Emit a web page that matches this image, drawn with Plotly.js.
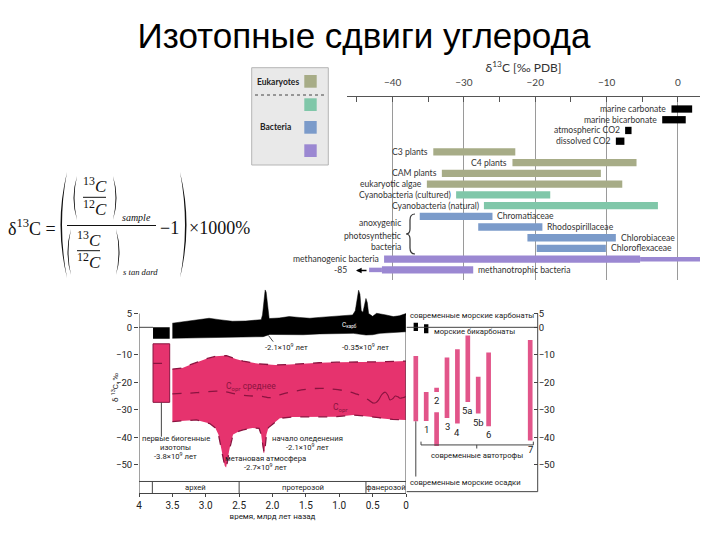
<!DOCTYPE html>
<html>
<head>
<meta charset="utf-8">
<script src="https://cdn.plot.ly/plotly-3.0.1.min.js"></script>
<style>
  html, body { margin: 0; padding: 0; background: #fff; }
  #chart { width: 720px; height: 540px; }
</style>
</head>
<body>
<div id="chart"></div>
<script>
// ---- top right: d13C ranges of carbon pools (‰ PDB) ----
var rowNames = ['marine carbonate', 'marine bicarbonate', 'atmospheric CO2', 'dissolved CO2',
  'C3 plants', 'C4 plants', 'CAM plants', 'eukaryotic algae',
  'Cyanobacteria (cultured)', 'Cyanobacteria (natural)',
  'Chromatiaceae', 'Rhodospirillaceae', 'Chlorobiaceae', 'Chloroflexaceae',
  'methanogenic bacteria', 'methanotrophic bacteria'];
var rowGroups = ['inorganic', 'inorganic', 'inorganic', 'inorganic',
  'eukaryotes', 'eukaryotes', 'eukaryotes', 'eukaryotes',
  'cyanobacteria', 'cyanobacteria',
  'anoxygenic', 'anoxygenic', 'anoxygenic', 'anoxygenic',
  'methane', 'methane'];
var rowMin = [-0.9, -2.2, -7.4, -8.7, -34.3, -23.2, -33.1, -35.2, -31.1, -27.2, -36.2, -28.0, -21.1, -19.8, -41.2, -41.5];
var rowMax = [2.0, 1.1, -6.5, -7.5, -22.8, -5.8, -10.8, -7.8, -17.9, -2.8, -26.0, -19.0, -8.7, -10.1, -5.3, -28.7];
var rowLabelSide = ['left', 'left', 'left', 'left', 'left', 'left', 'left', 'left', 'left', 'left',
  'right', 'right', 'right', 'right', 'left', 'right'];
// thin tapered ends of the methane bars
var tailNames = ['methanogenic bacteria', 'methanotrophic bacteria'];
var tailMin = [-5.3, -43.3];
var tailMax = [3.1, -41.5];

var groupNames = ['inorganic', 'eukaryotes', 'cyanobacteria', 'anoxygenic', 'methane'];
var groupColors = ['#000000', '#a7ac87', '#80c7a9', '#7b9bca', '#9b88d2'];
var legendGroups = ['eukaryotes', 'cyanobacteria', 'anoxygenic', 'methane'];

// ---- bottom left: d13C through geological time (age in Ga) ----
var carbTopAge = [3.5, 3.3, 3.1, 2.95, 2.8, 2.6, 2.4, 2.25, 2.17, 2.15, 2.135, 2.12, 2.11, 2.095, 2.08, 2.065, 2.05,
  1.9, 1.75, 1.6, 1.44, 1.3, 1.14, 1.0, 0.89, 0.8, 0.76, 0.73, 0.71, 0.69, 0.67, 0.645, 0.62, 0.6, 0.58, 0.56,
  0.5, 0.44, 0.3, 0.19, 0.1, 0.0];
var carbTopVal = [1.5, 2.2, 2.7, 3.3, 2.8, 2.2, 2.3, 2.6, 2.8, 4.5, 9, 12.8, 13.6, 12.8, 9, 4.5, 3.2,
  3.4, 3.9, 3.6, 3.3, 3.6, 3.9, 4.2, 4.5, 4.5, 6, 11, 13.5, 12, 6, 5.5, 8, 10.5, 9, 5,
  4, 5.1, 4.5, 3.9, 4.2, 5];
var carbBotAge = [3.5, 3.3, 3.14, 2.9, 2.64, 2.4, 2.14, 2.04, 1.8, 1.54, 1.3, 1.04, 0.79, 0.6, 0.5, 0.39, 0.2, 0.0];
var carbBotVal = [-4.0, -3.9, -3.8, -3.6, -3.4, -3.5, -3.4, -2.6, -2.7, -2.7, -2.4, -2.2, -2.2, -2.8, -2.7, -2.2, -2.0, -1.6];

var orgTopAge = [3.5, 3.35, 3.24, 3.0, 2.85, 2.69, 2.55, 2.44, 2.2, 1.96, 1.75, 1.54, 1.3, 1.04, 0.8, 0.54, 0.3, 0.0];
var orgTopVal = [-15.2, -14.8, -13.7, -11.5, -10.5, -10.3, -11.5, -12.3, -13.3, -13.7, -13.5, -13.1, -12.9, -12.7, -12.7, -12.7, -12.5, -12.3];
var orgBotAge = [3.5, 3.3, 3.14, 2.94, 2.86, 2.81, 2.77, 2.74, 2.715, 2.695, 2.675, 2.65, 2.62, 2.59, 2.5, 2.44, 2.3, 2.2,
  2.17, 2.15, 2.135, 2.125, 2.11, 2.09, 2.06, 2.0, 1.89, 1.7, 1.54, 1.3, 1.04, 0.79, 0.6, 0.54, 0.39, 0.2, 0.0];
var orgBotVal = [-34.3, -34.0, -33.7, -35.0, -36.5, -39.0, -43.5, -47.5, -50.5, -51.0, -49.0, -45.0, -41.5, -39.0, -37.8, -37.3, -36.6, -36.8,
  -39.0, -43.0, -45.6, -45.8, -43.5, -39.0, -36.5, -35.3, -33.1, -32.6, -32.5, -32.6, -32.5, -31.9, -32.3, -32.5, -33.1, -33.5, -33.7];
var orgMeanAge = [3.5, 3.3, 3.14, 2.84, 2.7, 2.49, 2.3, 2.14, 2.04, 1.9, 1.74, 1.5, 1.29, 1.1, 0.89, 0.75, 0.64, 0.55,
  0.49, 0.45, 0.41, 0.36, 0.31, 0.27, 0.24, 0.2, 0.16, 0.12, 0.09, 0.05, 0.0];
var orgMeanVal = [-24.2, -24.0, -23.8, -23.2, -23.5, -24.6, -25.0, -25.2, -25.6, -24.6, -23.6, -22.6, -22.2, -22.5, -23.2, -24.2, -25.2, -26.6,
  -27.6, -27.4, -26.4, -24.4, -23.6, -24.8, -26.4, -26.0, -25.0, -25.3, -25.8, -25.6, -25.2];
var orgMeanSolidFrom = 18;   // wiggly Phanerozoic part is drawn solid

var firstIsoSpan = [3.79, 3.54];
var firstIsoRange = [-27.3, -6.0];
var firstIsoMedian = -13.1;
var firstCarbRange = [-4.2, 0];

var eraNames = ['архей', 'протерозой', 'фанерозой'];
var eraStart = [3.8, 2.5, 0.6];
var eraEnd = [2.5, 0.6, 0.0];
var timeTicks = [4, 3.5, 3, 2.5, 2, 1.5, 1, 0.5, 0];
var timeTickText = ['4', '3.5', '3.0', '2.5', '2.0', '1.5', '1.0', '0.5', '0'];
var d13Ticks = [5, 0, -10, -20, -30, -40, -50];

// ---- bottom right: modern values ----
var modernSlots = ['осадки', '1', '2', '3', '4', '5a', '5b', '6', ' ', '  ', '   ', '7'];
var sedimentRange = [-34.2, -10.4];
var autoNames = ['1', '2', '2', '3', '4', '5a', '5b', '6', '7'];
var autoHigh = [-23.5, -22.0, -30.9, -11.0, -8.0, -3.0, -18.0, -9.2, -4.6];
var autoLow = [-34.1, -23.5, -43.2, -33.0, -35.0, -27.2, -31.4, -36.0, -41.2];
var modernCarbSlots = ['осадки', '1'];
var modernCarbHigh = [1.7, 1.1];
var modernCarbLow = [-1.3, -2.2];

var PINK = '#e6336e', PINK2 = '#e2558a', MAROON = '#8a1440';
var SANS = 'Roboto, "Liberation Sans", sans-serif';
var LAT = 'Lato, "Liberation Sans", sans-serif';
var SERIF = '"Liberation Serif", "DejaVu Serif", serif';
var SMALL = 7.7;

function colorOf(g) { return groupColors[groupNames.indexOf(g)]; }
function PX(x) { return x / 720; }
function PY(y) { return 1 - y / 540; }
function diff(hi, lo) { return hi.map(function (v, i) { return v - lo[i]; }); }

var traces = [];

// top chart bars, one trace per group
groupNames.forEach(function (g) {
  var names = [], base = [], len = [];
  rowNames.forEach(function (n, i) {
    if (rowGroups[i] === g) { names.push(n); base.push(rowMin[i]); len.push(rowMax[i] - rowMin[i]); }
  });
  traces.push({ type: 'bar', orientation: 'h', y: names, x: len, base: base, width: 0.68,
    marker: { color: colorOf(g) }, xaxis: 'x', yaxis: 'y', hoverinfo: 'skip' });
});
traces.push({ type: 'bar', orientation: 'h', y: tailNames, x: diff(tailMax, tailMin), base: tailMin, width: 0.42,
  marker: { color: colorOf('methane') }, xaxis: 'x', yaxis: 'y', hoverinfo: 'skip' });

// C carb band
traces.push({ type: 'scatter', mode: 'lines', xaxis: 'x2', yaxis: 'y2',
  x: carbTopAge.concat(carbBotAge.slice().reverse()),
  y: carbTopVal.concat(carbBotVal.slice().reverse()),
  fill: 'toself', fillcolor: '#000', line: { width: 0.5, color: '#000' }, hoverinfo: 'skip' });
// C org band
traces.push({ type: 'scatter', mode: 'lines', xaxis: 'x2', yaxis: 'y2',
  x: orgTopAge.concat(orgBotAge.slice().reverse()),
  y: orgTopVal.concat(orgBotVal.slice().reverse()),
  fill: 'toself', fillcolor: PINK, line: { width: 0 }, hoverinfo: 'skip' });
[[orgTopAge, orgTopVal], [orgBotAge, orgBotVal]].forEach(function (e) {
  traces.push({ type: 'scatter', mode: 'lines', xaxis: 'x2', yaxis: 'y2', x: e[0], y: e[1],
    line: { color: MAROON, width: 1.3, dash: 'dash' }, hoverinfo: 'skip' });
});
traces.push({ type: 'scatter', mode: 'lines', xaxis: 'x2', yaxis: 'y2',
  x: orgMeanAge.slice(0, orgMeanSolidFrom + 1), y: orgMeanVal.slice(0, orgMeanSolidFrom + 1),
  line: { color: MAROON, width: 1.3, dash: 'dash', shape: 'spline' }, hoverinfo: 'skip' });
traces.push({ type: 'scatter', mode: 'lines', xaxis: 'x2', yaxis: 'y2',
  x: orgMeanAge.slice(orgMeanSolidFrom), y: orgMeanVal.slice(orgMeanSolidFrom),
  line: { color: MAROON, width: 1.1, shape: 'spline' }, hoverinfo: 'skip' });

// first biogenic isotopes (~3.8 Ga)
var isoMid = (firstIsoSpan[0] + firstIsoSpan[1]) / 2, isoW = firstIsoSpan[0] - firstIsoSpan[1];
traces.push({ type: 'bar', xaxis: 'x2', yaxis: 'y2', x: [isoMid], base: [firstCarbRange[0]],
  y: [firstCarbRange[1] - firstCarbRange[0]], width: [isoW], marker: { color: '#000' }, hoverinfo: 'skip' });
traces.push({ type: 'bar', xaxis: 'x2', yaxis: 'y2', x: [isoMid], base: [firstIsoRange[0]],
  y: [firstIsoRange[1] - firstIsoRange[0]], width: [isoW],
  marker: { color: PINK, line: { color: MAROON, width: 1 } }, hoverinfo: 'skip' });
traces.push({ type: 'scatter', mode: 'lines', xaxis: 'x2', yaxis: 'y2', x: firstIsoSpan,
  y: [firstIsoMedian, firstIsoMedian], line: { color: MAROON, width: 1.2, dash: 'dash' }, hoverinfo: 'skip' });

// modern panel
traces.push({ type: 'bar', xaxis: 'x3', yaxis: 'y3', x: [modernSlots[0]], base: [sedimentRange[0]],
  y: [sedimentRange[1] - sedimentRange[0]], width: 0.45, marker: { color: PINK2 }, hoverinfo: 'skip' });
traces.push({ type: 'bar', xaxis: 'x3', yaxis: 'y3', x: autoNames, base: autoLow,
  y: diff(autoHigh, autoLow), width: 0.45, marker: { color: PINK2 }, hoverinfo: 'skip' });
traces.push({ type: 'bar', xaxis: 'x3', yaxis: 'y3', x: modernCarbSlots, base: modernCarbLow,
  y: diff(modernCarbHigh, modernCarbLow), width: 0.42, marker: { color: '#000' }, hoverinfo: 'skip' });

// ---- annotations ----
var ann = [];
function note(text, x, y, o) {
  o = o || {};
  ann.push({ text: text, x: PX(x), y: PY(y), xref: 'paper', yref: 'paper', showarrow: false,
    xanchor: o.xa || 'left', yanchor: o.ya || 'middle',
    font: { family: o.family || SANS, size: o.size || SMALL, color: o.color || '#222', weight: o.weight || 'normal' },
    textangle: o.angle || 0 });
}
function dnote(text, x, y, o) {
  o = o || {};
  ann.push({ text: text, x: x, y: y, xref: o.xref || 'x2', yref: o.yref || 'y2', showarrow: false,
    xanchor: o.xa || 'center', yanchor: o.ya || 'middle', xshift: o.xs || 0, yshift: o.ys || 0,
    font: { family: o.family || SANS, size: o.size || SMALL, color: o.color || '#222' } });
}
function dlines(lines, x, y, lh, o) {
  lines.forEach(function (t, i) { var p = Object.assign({}, o || {}); p.ys = -i * lh; dnote(t, x, y, p); });
}

// top chart row labels
rowNames.forEach(function (n, i) {
  var left = rowLabelSide[i] === 'left';
  dnote(n, left ? rowMin[i] : rowMax[i], i, { xref: 'x', yref: 'y', xa: left ? 'right' : 'left',
    xs: left ? -3 : 3, family: LAT, size: 8.6, color: '#333' });
});
note('anoxygenic', 403, 223.5, { xa: 'right', family: LAT, size: 8.6, color: '#333' });
note('photosynthetic', 403, 235.5, { xa: 'right', family: LAT, size: 8.6, color: '#333' });
note('bacteria', 403, 247.5, { xa: 'right', family: LAT, size: 8.6, color: '#333' });
note('-85', 349, 270, { xa: 'right', family: LAT, size: 8.6, color: '#333' });
ann.push({ x: PX(356), y: PY(270.5), xref: 'paper', yref: 'paper', text: '', showarrow: true,
  ax: 12, ay: 0, arrowhead: 2, arrowsize: 0.8, arrowwidth: 1.4, arrowcolor: '#000' });

// legend box
note('Eukaryotes', 255, 81.7, { family: LAT, size: 8.5, weight: 'bold', color: '#222' });
note('Bacteria', 258, 127, { family: LAT, size: 8.5, weight: 'bold', color: '#222' });

// formula
note('δ<sup>13</sup>C =', 6, 227, { family: SERIF, size: 18, color: '#111' });
note('<sup>13</sup><i>C</i>', 95, 185, { xa: 'center', family: SERIF, size: 17, color: '#111' });
note('<sup>12</sup><i>C</i>', 95, 208, { xa: 'center', family: SERIF, size: 17, color: '#111' });
note('<i>sample</i>', 120, 217, { family: SERIF, size: 10, color: '#111' });
note('<sup>13</sup><i>C</i>', 89, 239, { xa: 'center', family: SERIF, size: 17, color: '#111' });
note('<sup>12</sup><i>C</i>', 89, 261, { xa: 'center', family: SERIF, size: 17, color: '#111' });
note('<i>s tan dard</i>', 121, 271.5, { family: SERIF, size: 8.6, color: '#111' });
note('−1', 158, 227.5, { family: SERIF, size: 18, color: '#111' });
note('×1000%', 187, 228, { family: SERIF, size: 18, color: '#111' });

// bottom-left labels
dnote('C<sub>карб</sub>', 0.85, 0.8, { size: 6.5, color: '#fff' });
dnote('C<sub>орг</sub> среднее', 2.32, -21.5, { size: 8.5, color: MAROON });
dnote('C<sub>орг</sub>', 0.98, -29, { size: 8.5, color: MAROON });
dnote('-2.1×10<sup>9</sup> лет', 1.79, -7.2);
dnote('-0.35×10<sup>9</sup> лет', 0.61, -7.2);
dlines(['первые биогенные', 'изотопы', '-3.8×10<sup>9</sup> лет'], 3.45, -40.4, 8.8);
dlines(['начало оледенения', '-2.1×10<sup>9</sup> лет'], 1.47, -40.4, 8.8);
dlines(['метановая атмосфера', '-2.7×10<sup>9</sup> лет'], 2.11, -47.6, 8.8);
eraNames.forEach(function (n, i) { dnote(n, (eraStart[i] + eraEnd[i]) / 2, -58.2); });
ann.push({ text: 'δ <sup>13</sup>C, ‰', x: PX(108), y: PY(404), xref: 'paper', yref: 'paper', showarrow: false,
  textangle: -90, font: { family: SANS, size: 8, color: '#222' } });

// bottom-right labels (x given as slot index so numeric names are not read as positions)
autoNames.forEach(function (n, i) {
  if (autoNames.indexOf(n) !== i) return;
  dnote(n, modernSlots.indexOf(n), autoLow[i], { xref: 'x3', yref: 'y3', ya: 'top', ys: -1, size: 9.5 });
});
note('современные морские карбонаты', 408, 315);
note('морские бикарбонаты', 432, 331);
note('современные автотрофы', 477, 455.5, { xa: 'center' });
note('современные морские осадки', 408, 482.5);

// ---- shapes ----
var shapes = [];
function pline(x0, y0, x1, y1, o) {
  o = o || {};
  shapes.push({ type: 'line', xref: 'paper', yref: 'paper', x0: PX(x0), y0: PY(y0), x1: PX(x1), y1: PY(y1),
    line: { color: o.color || '#555', width: o.width || 1, dash: o.dash || 'solid' } });
}
function dline(xref, yref, x0, y0, x1, y1, o) {
  o = o || {};
  shapes.push({ type: 'line', xref: xref, yref: yref, x0: x0, y0: y0, x1: x1, y1: y1,
    line: { color: o.color || '#444', width: o.width || 1 } });
}
function ppath(pts, fill) {
  var d = pts.map(function (p) {
    if (typeof p === 'string') return p;
    return PX(p[0]).toFixed(5) + ',' + PY(p[1]).toFixed(5);
  }).join(' ');
  shapes.push({ type: 'path', xref: 'paper', yref: 'paper', path: d,
    fillcolor: fill || 'rgba(0,0,0,0)', line: { color: fill ? 'rgba(0,0,0,0)' : '#333', width: 1.2 } });
}

// legend box
shapes.push({ type: 'rect', xref: 'paper', yref: 'paper', x0: PX(251.7), x1: PX(328.3), y0: PY(67.7), y1: PY(165),
  fillcolor: '#e9e9e9', line: { color: '#b5b5b5', width: 1 }, layer: 'below' });
var swatchTop = [75, 98.3, 121, 144.3];
legendGroups.forEach(function (g, i) {
  shapes.push({ type: 'rect', xref: 'paper', yref: 'paper', x0: PX(304.3), x1: PX(316.7),
    y0: PY(swatchTop[i]), y1: PY(swatchTop[i] + 12.7), fillcolor: colorOf(g), line: { width: 0 } });
});
pline(255, 95, 325, 95, { dash: 'dot', color: '#444' });
// brace for anoxygenic photosynthetic bacteria
ppath(['M', [415, 214], 'Q', [410, 214], [410, 220], 'L', [410, 229], 'Q', [410, 234], [406, 234],
  'Q', [410, 234], [410, 239], 'L', [410, 248], 'Q', [410, 254], [415, 254]]);

// formula parentheses and fraction bars
function paren(x, y0, y1, bulge, thick) {
  var ym = (y0 + y1) / 2;
  ppath(['M', [x, y0], 'Q', [x - bulge, ym], [x, y1], 'Q', [x - bulge + thick, ym], [x, y0], 'Z'], '#111');
}
paren(67, 172, 278, 13, 3);
paren(180, 172, 278, -13, -3);
paren(77, 176, 220, 7, 2);
paren(113, 176, 220, -7, -2);
paren(71, 229, 275, 7, 2);
paren(116, 229, 275, -7, -2);
pline(67, 225.5, 156, 225.5, { color: '#111', width: 1.2 });
pline(83, 197.3, 106, 197.3, { color: '#111', width: 1 });
pline(77, 250.7, 100, 250.7, { color: '#111', width: 1 });

// bottom-left frame: y axis, era strip, right border
dline('x2', 'y2', 4, 5, 4, -60.4);
dline('x2', 'y2', 4, 0, firstIsoSpan[0], 0);
dline('x2', 'y2', 4, -56.1, 0, -56.1);
eraStart.forEach(function (a) { dline('x2', 'y2', a, -56.1, a, -60.4); });
dline('x2', 'y2', 0, 4.3, 0, -61.6);
dline('x2', 'y2', isoMid, firstIsoRange[0], isoMid, -39.8);
dline('x2', 'y2', 2.06, -3.0, 1.99, -5.2);

// bottom-right frame
dline('paper', 'y3', PX(537.7), 5, PX(537.7), -59.8);
dline('paper', 'y3', PX(406.7), -59.8, PX(537.7), -59.8);
dline('paper', 'y3', PX(406.7), 0, PX(537.7), 0);
dline('x3', 'y3', 0, sedimentRange[0], 0, -54.3);
dline('x3', 'y3', 0.5, -41.6, 0.5, -42.8);
dline('x3', 'y3', 0.5, -42.8, 11.3, -42.8);
dline('x3', 'y3', 11.3, -41.6, 11.3, -42.8);
dline('x3', 'y3', 5.86, -42.8, 5.86, -44.1);

var layout = {
  width: 720, height: 540,
  margin: { l: 0, r: 0, t: 0, b: 0 },
  paper_bgcolor: '#fff', plot_bgcolor: 'rgba(0,0,0,0)',
  showlegend: false, hovermode: false, barmode: 'overlay',
  title: { text: 'Изотопные сдвиги углерода', x: 364 / 720, xanchor: 'center', y: PY(36), yanchor: 'middle',
    yref: 'container', font: { family: '"Liberation Sans", Arial, sans-serif', size: 35, color: '#000' } },
  xaxis: {
    domain: [PX(347), PX(700)], range: [-46.4, 3.1], side: 'top', anchor: 'y',
    showline: true, linecolor: '#555', linewidth: 1.5, zeroline: false,
    showgrid: true, gridcolor: '#9a9a9a', gridwidth: 1, dtick: 10, tick0: 0,
    ticks: 'inside', ticklen: 5, tickcolor: '#555', ticklabelstandoff: 6,
    minor: { dtick: 5, ticks: 'inside', ticklen: 5, tickcolor: '#555', showgrid: false },
    tickfont: { family: LAT, size: 10, color: '#444' },
    title: { text: 'δ<sup>13</sup>C [‰ PDB]', standoff: 0, font: { family: LAT, size: 12, color: '#333' } }
  },
  yaxis: {
    domain: [PY(280), PY(97)], type: 'category', categoryorder: 'array', categoryarray: rowNames,
    range: [15.94, -1.12], showticklabels: false, showgrid: false, zeroline: false, showline: false, ticks: ''
  },
  xaxis2: {
    domain: [PX(139), PX(406)], range: [4, 0], anchor: 'y2',
    tickvals: timeTicks, ticktext: timeTickText, ticks: 'outside', ticklen: 3, tickcolor: '#444',
    showline: true, linecolor: '#444', linewidth: 1, showgrid: false, zeroline: false,
    tickfont: { family: SANS, size: 10, color: '#222' },
    title: { text: 'время, млрд лет назад', standoff: 3, font: { family: SANS, size: 8, color: '#222' } }
  },
  yaxis2: {
    domain: [PY(493.3), PY(285)], range: [-60.4, 15.4], anchor: 'x2',
    tickvals: d13Ticks, ticks: 'outside', ticklen: 4, tickcolor: '#444',
    showline: false, showgrid: false, zeroline: false,
    tickfont: { family: SANS, size: 9.5, color: '#222' }
  },
  xaxis3: {
    domain: [PX(406.7), PX(537.7)], type: 'category', categoryorder: 'array', categoryarray: modernSlots,
    range: [-0.875, 11.72], anchor: 'y3', showticklabels: false, showgrid: false, zeroline: false,
    showline: false, ticks: ''
  },
  yaxis3: {
    domain: [PY(493.3), PY(285)], range: [-60.4, 15.4], anchor: 'x3', side: 'right',
    tickvals: d13Ticks, ticks: 'inside', ticklen: 4, tickcolor: '#444',
    showline: false, showgrid: false, zeroline: false,
    tickfont: { family: SANS, size: 9.5, color: '#222' }
  },
  annotations: ann,
  shapes: shapes
};

Plotly.newPlot('chart', traces, layout, { staticPlot: true, displayModeBar: false });
</script>
</body>
</html>
